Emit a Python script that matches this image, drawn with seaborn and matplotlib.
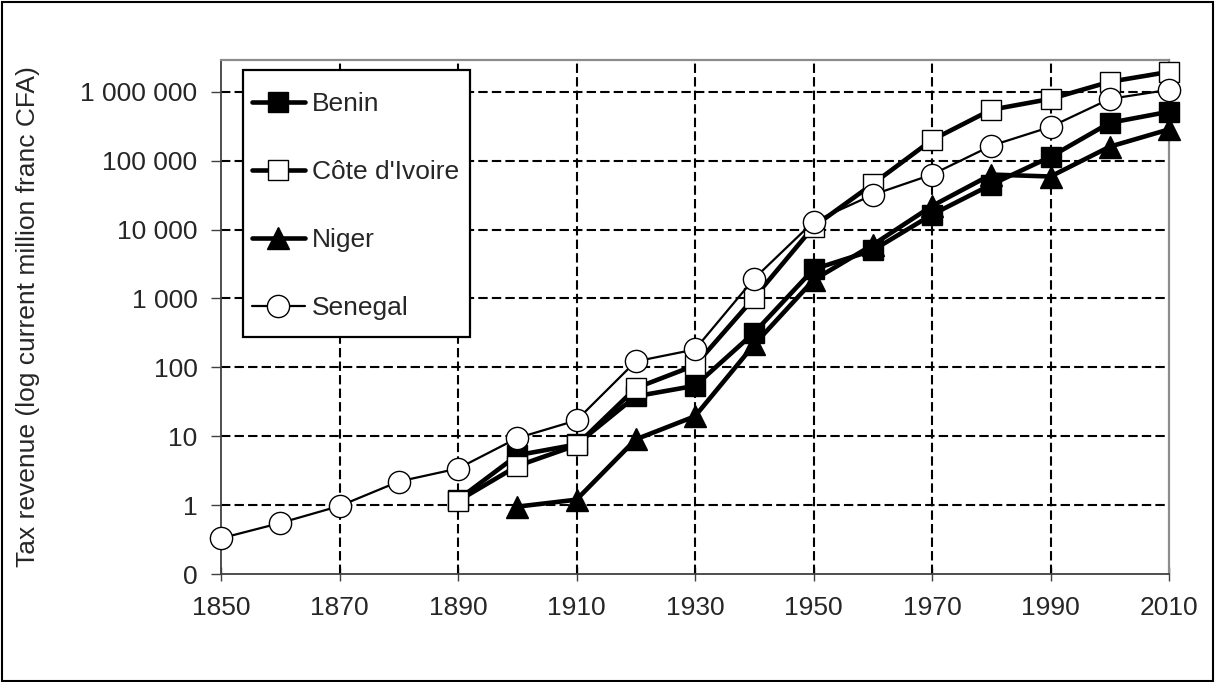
import numpy as np
import pandas as pd
import matplotlib
matplotlib.use("Agg")
import matplotlib.pyplot as plt
import seaborn as sns
from matplotlib.ticker import FixedLocator, FixedFormatter, NullLocator
from matplotlib.patches import Rectangle

# ---- data ----
years_benin = [1890, 1900, 1910, 1920, 1930, 1940, 1950, 1960, 1970, 1980, 1990, 2000, 2010]
benin = [1.2, 5.3, 7.6, 38, 54, 320, 2650, 5000, 16500, 45000, 114000, 355000, 515000]

years_cdi = [1890, 1900, 1910, 1920, 1930, 1940, 1950, 1960, 1970, 1980, 1990, 2000, 2010]
cdi = [1.15, 3.7, 7.4, 50, 107, 1030, 11000, 46000, 200000, 550000, 790000, 1400000, 1950000]

years_niger = [1900, 1910, 1920, 1930, 1940, 1950, 1960, 1970, 1980, 1990, 2000, 2010]
niger = [0.95, 1.2, 9.0, 19.5, 215, 1850, 6000, 22000, 63000, 59000, 160000, 285000]

years_senegal = [1850, 1860, 1870, 1880, 1890, 1900, 1910, 1920, 1930, 1940, 1950,
                 1960, 1970, 1980, 1990, 2000, 2010]
senegal = [0.33, 0.55, 0.97, 2.2, 3.4, 9.4, 17, 122, 182, 1950, 13000,
           32000, 63000, 165000, 310000, 790000, 1070000]

x_ticks = [1850, 1870, 1890, 1910, 1930, 1950, 1970, 1990, 2010]
y_ticks = [0.1, 1, 10, 100, 1000, 10000, 100000, 1000000]
y_tick_labels = ["0", "1", "10", "100", "1 000", "10 000", "100 000", "1 000 000"]
y_label = "Tax revenue (log current million franc CFA)"

# ---- style ----
sns.set_theme(style="white")
plt.rcParams["font.family"] = ["Liberation Sans", "DejaVu Sans"]
FS = 19
plt.rcParams["font.size"] = FS

W, H = 1215, 682
fig = plt.figure(figsize=(W / 100, H / 100), dpi=100)
AX_L, AX_R, AX_T, AX_B = 221, 1169, 60, 574
ax = fig.add_axes([AX_L / W, 1 - AX_B / H, (AX_R - AX_L) / W, (AX_B - AX_T) / H])

def ax_x(px):
    return (px - AX_L) / (AX_R - AX_L)

def ax_y(py):
    return (AX_B - py) / (AX_B - AX_T)

series = [
    ("Benin", years_benin, benin, dict(marker="s", markerfacecolor="black", lw=3.3, ms=14.5)),
    ("Côte d'Ivoire", years_cdi, cdi, dict(marker="s", markerfacecolor="white", lw=3.3, ms=14.5)),
    ("Niger", years_niger, niger, dict(marker="^", markerfacecolor="black", lw=3.3, ms=15.5)),
    ("Senegal", years_senegal, senegal, dict(marker="o", markerfacecolor="white", lw=1.6, ms=16)),
]

for name, yrs, vals, kw in series:
    df = pd.DataFrame({"year": yrs, "value": vals})
    sns.lineplot(data=df, x="year", y="value", ax=ax, color="black", label=name,
                 markeredgecolor="black", markeredgewidth=1.0, zorder=3,
                 clip_on=False, **kw)

ax.set_yscale("log")
ax.set_xlim(1850, 2010)
ax.set_ylim(0.1, 2.9e6)

ax.xaxis.set_major_locator(FixedLocator(x_ticks))
ax.xaxis.set_minor_locator(NullLocator())
ax.yaxis.set_major_locator(FixedLocator(y_ticks))
ax.yaxis.set_major_formatter(FixedFormatter(y_tick_labels))
ax.yaxis.set_minor_locator(NullLocator())

ax.tick_params(axis="x", direction="inout", length=10, width=1.0, color="#404040",
               pad=11, labelsize=FS, bottom=True)
ax.tick_params(axis="y", direction="out", length=7, width=1.0, color="#404040",
               pad=10, labelsize=FS, left=True)

# dashed black gridlines
for v in y_ticks[1:]:
    ax.axhline(v, color="black", lw=1.5, ls=(0, (4.5, 2)), zorder=1)
for v in x_ticks[1:-1]:
    ax.axvline(v, color="black", lw=1.5, ls=(0, (4.5, 2)), zorder=1)

for side in ["left", "bottom"]:
    ax.spines[side].set_color("#404040")
    ax.spines[side].set_linewidth(1.3)
for side in ["top", "right"]:
    ax.spines[side].set_color("#8c8c8c")
    ax.spines[side].set_linewidth(1.6)

ax.set_xlabel("")
ax.set_ylabel(y_label, fontsize=FS)
ax.yaxis.set_label_coords(-0.1905, 0.5)

# legend box (frame drawn separately so padding can differ horizontally / vertically)
box = Rectangle((ax_x(243), ax_y(337)), ax_x(470) - ax_x(243), ax_y(70) - ax_y(337),
                transform=ax.transAxes, facecolor="white", edgecolor="black",
                lw=1.6, zorder=4.5, clip_on=False)
ax.add_patch(box)

leg = ax.legend(loc="upper left", bbox_to_anchor=(ax_x(252), ax_y(92)), borderaxespad=0,
                frameon=False, fontsize=FS, labelspacing=1.67, handlelength=2.0,
                handletextpad=0.27, borderpad=0.0)
leg.set_zorder(5)

fig.patches.append(Rectangle((0.0015, 0.002), 0.997, 0.995, transform=fig.transFigure,
                             fill=False, edgecolor="black", lw=1.5))

fig.savefig("out.png", dpi=100, facecolor="white")
